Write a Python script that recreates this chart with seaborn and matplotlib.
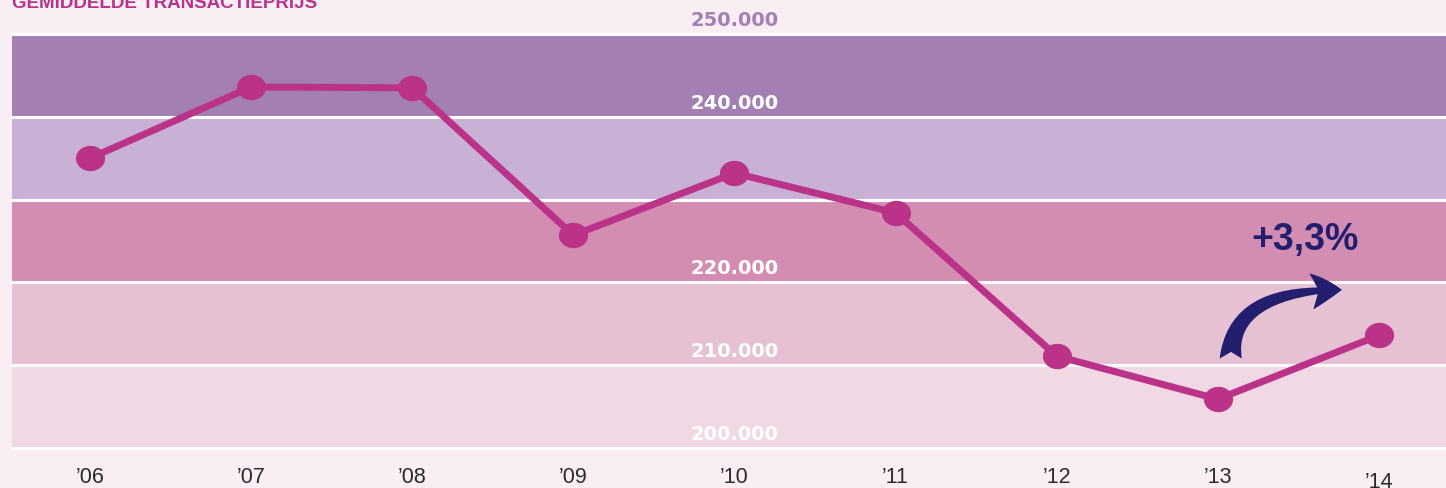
import matplotlib
matplotlib.use("Agg")
import matplotlib.pyplot as plt
import seaborn as sns
import numpy as np
import pandas as pd
from matplotlib.path import Path

# ---- data ----
years = ["\u201906", "\u201907", "\u201908", "\u201909", "\u201910", "\u201911", "\u201912", "\u201913", "\u201914"]
prices = [235000, 243600, 243500, 225700, 233200, 228400, 211100, 205900, 213600]
band_edges = [200000, 210000, 220000, 230000, 240000, 250000]
band_colors = ["#F0D8E4", "#E6C1D3", "#D38DB2", "#C8B1D5", "#A37FB4"]
ylabel_values = [200000, 210000, 220000, 240000, 250000]
ylabel_texts = ["200.000", "210.000", "220.000", "240.000", "250.000"]
title_text = "GEMIDDELDE TRANSACTIEPRIJS"
change_text = "+3,3%"

BG = "#F9EEF4"
LINE = "#BA3388"
NAVY = "#231E6E"

sns.set_theme(style="white")
plt.rcParams["font.family"] = ["Liberation Sans", "DejaVu Sans"]

fig = plt.figure(figsize=(14.46, 4.88), dpi=100, facecolor=BG)
ax = fig.add_axes([12 / 1446, 1 - 448 / 488, 1 - 12 / 1446, (448 - 34) / 488])
ax.set_facecolor(BG)

for lo, hi, c in zip(band_edges[:-1], band_edges[1:], band_colors):
    ax.axhspan(lo, hi, color=c, lw=0, zorder=0)
for e in band_edges:
    ax.axhline(e, color="white", lw=2.2, zorder=1, clip_on=False)

df = pd.DataFrame({"x": np.arange(len(years)), "price": prices})
circ = Path.unit_circle()
ell = Path(circ.vertices * np.array([1.15, 1.0]), circ.codes)
sns.lineplot(data=df, x="x", y="price", ax=ax, color=LINE, lw=5,
             marker=ell, markersize=21, markeredgewidth=0,
             markerfacecolor=LINE, zorder=3)

ax.set_ylim(band_edges[0], band_edges[-1])
ax.set_xlim(-0.484, len(years) - 1 + 0.416)

for v, t in zip(ylabel_values, ylabel_texts):
    col = "#A37FB4" if v == band_edges[-1] else "white"
    ax.annotate(t, xy=(4, v), xytext=(0, 3), textcoords="offset points",
                ha="center", va="bottom", fontsize=14, fontweight="bold",
                color=col, family="DejaVu Sans", zorder=4, annotation_clip=False)

ax.set_xticks(df["x"])
ax.set_xticklabels(years, fontsize=15.5, color="#2b2b2b")
ax.tick_params(axis="x", length=0, pad=14)
ax.set_yticks([])
ax.set_xlabel("")
ax.set_ylabel("")
labs = ax.get_xticklabels()
labs[-1].set_y(-0.010)
for s in ax.spines.values():
    s.set_visible(False)

# curved arrow and change label
ax.annotate("", xy=(7.77, 219100), xytext=(7.08, 210800),
            arrowprops=dict(arrowstyle="fancy,head_length=22,head_width=26,tail_width=16",
                            connectionstyle="angle3,angleA=90,angleB=0", color=NAVY,
                            shrinkA=0, shrinkB=0, mutation_scale=1, lw=0),
            zorder=4)
ax.text(7.54, 225100, change_text, ha="center", va="center", fontsize=27,
        fontweight="bold", color=NAVY, zorder=4)

fig.text(12 / 1446, 1 - 8 / 488, title_text, ha="left", va="baseline",
         fontsize=13.5, fontweight="bold", color="#B8338A")

fig.savefig("out.png", dpi=100, facecolor=BG)
